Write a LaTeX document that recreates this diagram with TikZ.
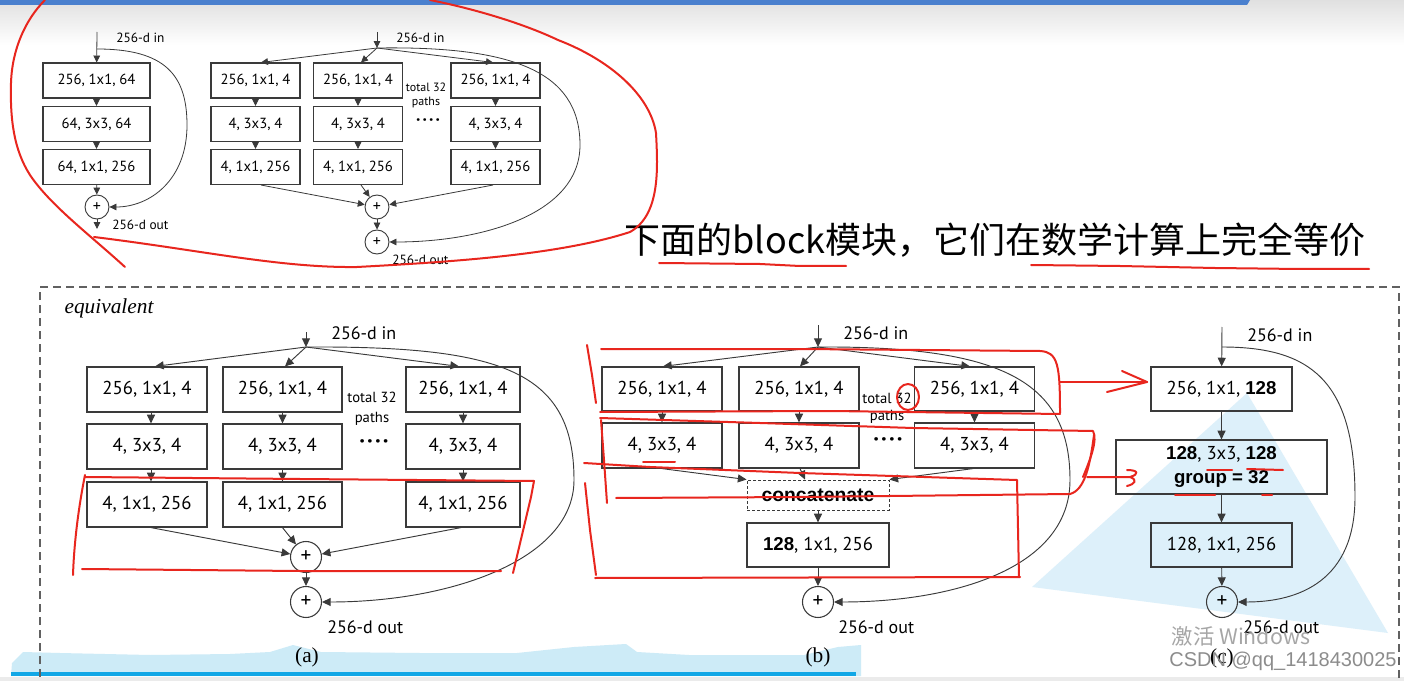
\documentclass[tikz,border=0pt]{standalone}
\usepackage{fontspec}
\setmainfont{PT Sans}
\newfontfamily\cjk{Noto Sans CJK SC}
\newfontfamily\tms{Liberation Serif}
\newfontfamily\arl{Liberation Sans}
\usetikzlibrary{arrows.meta,shapes.geometric}
\newlength\pxu \setlength\pxu{0.75pt}
\definecolor{ln}{HTML}{3A3A3A}
\definecolor{rd}{HTML}{E8261E}
\definecolor{lb}{HTML}{CDEBF7}
\definecolor{tri}{HTML}{DDF0FA}
\definecolor{bb}{HTML}{12A7E6}
\definecolor{topb}{HTML}{4A80CE}
\newcommand\fourdots{·\kern1.6pt·\kern1.6pt·\kern1.6pt·}
\begin{document}
\begin{tikzpicture}[x=0.75pt,y=-0.75pt,
  box/.style={draw=ln, line width=0.9pt, inner sep=0pt, align=center, font=\fontsize{14}{17}\selectfont},
  sbox/.style={draw=ln, line width=0.8pt, inner sep=0pt, align=center, font=\fontsize{11}{13}\selectfont, minimum width=89\pxu, minimum height=35\pxu},
  plus/.style={circle, draw=ln, line width=0.8pt, inner sep=0pt, minimum size=31\pxu, font=\fontsize{16}{16}\selectfont},
  splus/.style={circle, draw=ln, line width=0.7pt, inner sep=0pt, minimum size=24\pxu, font=\fontsize{12}{12}\selectfont},
  arr/.style={draw=ln, line width=0.7pt, -{Triangle[length=6.5pt,width=6pt]}},
  sarr/.style={draw=ln, line width=0.6pt, -{Triangle[length=5.2pt,width=5pt]}},
  lab/.style={font=\fontsize{13.5}{15}\selectfont, inner sep=0pt},
  slab/.style={font=\fontsize{10}{12}\selectfont, inner sep=0pt},
  tot/.style={font=\fontsize{11}{13}\selectfont, inner sep=0pt, align=center},
  stot/.style={font=\fontsize{9}{10}\selectfont, inner sep=0pt, align=center},
  dotsty/.style={font=\bfseries\fontsize{17}{17}\selectfont, inner sep=0pt},
  sdotsty/.style={font=\bfseries\fontsize{13}{13}\selectfont, inner sep=0pt},
  figcap/.style={font=\tms\fontsize{16}{18}\selectfont, inner sep=0pt},
  redpen/.style={draw=rd, line width=1.5pt, line cap=round, line join=round}]
\useasboundingbox (0,0) rectangle (1404,681);
% backgrounds
\fill[white] (0,0) rectangle (1404,681);
\shade[top color=black!12, bottom color=white] (0,0) rectangle (1404,45);
\fill[topb] (0,0) -- (1250,0) -- (1247,5) -- (0,5) -- cycle;
\fill[black!8] (0,677) rectangle (1404,681);
\fill[lb] (11,676) -- (12,663) -- (23,652) -- (60,653) -- (150,655) -- (230,654) -- (270,652) -- (293,645) -- (321,652) -- (420,653) -- (517,653) -- (574,647) -- (626,644) -- (637,652) -- (689,655) -- (804,655) -- (838,647) -- (861,645) -- (861,676) -- cycle;
\fill[bb] (11,672) rectangle (856,676);
\fill[tri] (1032,587) -- (1247,393) -- (1388,633) -- cycle;
% dashed frame
\draw[ln!80, line width=0.8pt, dash pattern=on 6pt off 3.75pt] (40,690) -- (40,287) -- (1399,287) -- (1399,690);
% ===== top-left block =====
\coordinate (Lin) at (97,32);
\coordinate (Lsk) at (97,49);
\coordinate (Lout) at (97,229);
\node[sbox, minimum width=107\pxu] (L1) at (96.5,80.5) {256, 1x1, 64};
\node[sbox, minimum width=107\pxu] (L2) at (96.5,124) {64, 3x3, 64};
\node[sbox, minimum width=107\pxu] (L3) at (96.5,167) {64, 1x1, 256};
\node[splus] (Lp) at (97,207) {+};
\node[slab, anchor=west] (Lint) at (116,38) {256-d in};
\node[slab, anchor=west] (Loutt) at (112,225) {256-d out};
\draw[sarr] (Lin) -- (L1);
\draw[sarr] (L1) -- (L2);
\draw[sarr] (L2) -- (L3);
\draw[sarr] (L3) -- (Lp);
\draw[sarr] (Lp) -- (Lout);
\draw[sarr] (Lsk) .. controls (165,49) and (187,75) .. (187,125) .. controls (187,180) and (150,207) .. (Lp.east);
% ===== top-right block =====
\coordinate (Rin) at (377,32);
\coordinate (Rsp) at (377,48);
\foreach \c/\x in {1/255.5,2/358,3/495.5}{
  \node[sbox] (R1\c) at (\x,80.5) {256, 1x1, 4};
  \node[sbox] (R2\c) at (\x,124) {4, 3x3, 4};
  \node[sbox] (R3\c) at (\x,167) {4, 1x1, 256};
  \draw[sarr] (R1\c) -- (R2\c);
  \draw[sarr] (R2\c) -- (R3\c);
}
\node[splus] (Rp1) at (377,207) {+};
\node[splus] (Rp2) at (377,242) {+};
\node[slab, anchor=west] (Rint) at (396,38) {256-d in};
\node[slab, anchor=west] (Routt) at (392,260) {256-d out};
\node[stot] (Rtot) at (426,95.5) {total 32\\[1pt]paths};
\node[sdotsty] (Rdots) at (428,122) {\fourdots};
\draw[sarr] (Rin) -- (Rsp);
\draw[sarr] (Rsp) -- ([xshift=5.5\pxu]R11.north);
\draw[sarr] (Rsp) -- ([xshift=3\pxu]R12.north);
\draw[sarr] (Rsp) -- ([xshift=-2.5\pxu]R13.north);
\draw[sarr] ([xshift=5.5\pxu]R31.south) -- (Rp1);
\draw[sarr] ([xshift=3\pxu]R32.south) -- (Rp1);
\draw[sarr] ([xshift=-2.5\pxu]R33.south) -- (Rp1);
\draw[sarr] (Rp1) -- (Rp2);
\draw[sarr] (Rsp) .. controls (510,46) and (580,70) .. (580,145) .. controls (580,215) and (480,242) .. (Rp2.east);
% ===== Chinese title =====
\node[font=\cjk\fontsize{27}{30}\selectfont, inner sep=0pt] (title) at (995,240) {下面的block模块，它们在数学计算上完全等价};
\node[font=\tms\itshape\fontsize{16}{18}\selectfont, inner sep=0pt] (equiv) at (109,308) {equivalent};
% ===== (a) =====
\coordinate (Ain) at (306,332);
\coordinate (Asp) at (306,347);
\node[box, minimum width=120\pxu, minimum height=45\pxu] (A11) at (147,389.5) {256, 1x1, 4};
\node[box, minimum width=119\pxu, minimum height=45\pxu] (A12) at (282.5,389.5) {256, 1x1, 4};
\node[box, minimum width=114\pxu, minimum height=45\pxu] (A13) at (463,389.5) {256, 1x1, 4};
\node[box, minimum width=120\pxu, minimum height=45\pxu] (A21) at (147,446.5) {4, 3x3, 4};
\node[box, minimum width=119\pxu, minimum height=45\pxu] (A22) at (282.5,446.5) {4, 3x3, 4};
\node[box, minimum width=114\pxu, minimum height=45\pxu] (A23) at (463,446.5) {4, 3x3, 4};
\node[box, minimum width=120\pxu, minimum height=45\pxu] (A31) at (147,504.5) {4, 1x1, 256};
\node[box, minimum width=119\pxu, minimum height=45\pxu] (A32) at (282.5,504.5) {4, 1x1, 256};
\node[box, minimum width=114\pxu, minimum height=45\pxu] (A33) at (463,504.5) {4, 1x1, 256};
\node[plus] (Ap1) at (306,557) {+};
\node[plus] (Ap2) at (306,602) {+};
\node[lab, anchor=west] (Aint) at (331,333) {256-d in};
\node[lab, anchor=west] (Aoutt) at (327,627) {256-d out};
\node[tot] (Atot) at (372,409) {total 32\\[2pt]paths};
\node[dotsty] (Adots) at (374,444) {\fourdots};
\node[figcap] (Acap) at (307,657) {(a)};
\draw[arr] (Ain) -- (Asp);
\draw[arr] (Asp) -- ([xshift=8\pxu]A11.north);
\draw[arr] (Asp) -- ([xshift=2.5\pxu]A12.north);
\draw[arr] (Asp) -- ([xshift=-4\pxu]A13.north);
\draw[arr] ([xshift=4\pxu]A11.south) -- ([xshift=4\pxu]A21.north);
\draw[arr] (A12) -- (A22);
\draw[arr] (A13) -- (A23);
\draw[arr] ([xshift=4\pxu]A21.south) -- ([xshift=4\pxu]A31.north);
\draw[arr] (A22) -- (A32);
\draw[arr] (A23) -- (A33);
\draw[arr] ([xshift=4\pxu]A31.south) -- (Ap1);
\draw[arr] (A32.south) -- (Ap1);
\draw[arr] ([xshift=-2\pxu]A33.south) -- (Ap1);
\draw[arr] (Ap1) -- (Ap2);
\draw[arr] (Asp) .. controls (500,346) and (574,370) .. (574,480) .. controls (574,560) and (450,602) .. (Ap2.east);
% ===== (b) =====
\coordinate (Bin) at (818,325);
\coordinate (Bsp) at (818,347);
\foreach \c/\x in {1/662,2/799,3/974.5}{
  \node[box, minimum width=120\pxu, minimum height=44\pxu] (B1\c) at (\x,389) {256, 1x1, 4};
  \node[box, minimum width=120\pxu, minimum height=45\pxu] (B2\c) at (\x,445.5) {4, 3x3, 4};
  \draw[arr] (B1\c) -- (B2\c);
}
\node[draw=ln, line width=0.7pt, dash pattern=on 2.25pt off 1.5pt, minimum width=142\pxu, minimum height=30\pxu, inner sep=0pt, font=\arl\bfseries\fontsize{14.5}{15}\selectfont] (Bc) at (818,495) {concatenate};
\node[box, minimum width=142\pxu, minimum height=44\pxu] (B3) at (818,545) {{\arl\bfseries 128}, 1x1, 256};
\node[plus] (Bp) at (818,602) {+};
\node[lab, anchor=west] (Bint) at (843,333) {256-d in};
\node[lab, anchor=west] (Boutt) at (838,627) {256-d out};
\node[tot] (Btot) at (887,408) {total 32\\[0pt]paths};
\node[dotsty] (Bdots) at (888,442) {\fourdots};
\node[figcap] (Bcap) at (818,657) {(b)};
\draw[arr] (Bin) -- (Bsp);
\draw[arr] (Bsp) -- ([xshift=1\pxu]B11.north);
\draw[arr] (Bsp) -- ([xshift=1\pxu]B12.north);
\draw[arr] (Bsp) -- ([xshift=-4.5\pxu]B13.north);
\draw[arr] (B21.south) -- (Bc.north west);
\draw[arr] ([xshift=1\pxu]B22.south) -- ([xshift=-13\pxu]Bc.north);
\draw[arr] ([xshift=-1.5\pxu]B23.south) -- (Bc.north east);
\draw[arr] (Bc) -- (B3);
\draw[arr] (B3) -- (Bp);
\draw[arr] (Bsp) .. controls (1000,346) and (1070,380) .. (1070,480) .. controls (1070,570) and (950,602) .. (Bp.east);
% ===== (c) =====
\coordinate (Cin) at (1222,327);
\coordinate (Csk) at (1222,347);
\node[box, minimum width=141\pxu, minimum height=44\pxu] (C1) at (1221.5,389) {256, 1x1, {\arl\bfseries 128}};
\node[box, minimum width=211\pxu, minimum height=54\pxu] (C2) at (1221.5,467) {{\arl\bfseries 128}, 3x3, {\arl\bfseries 128}\\[1pt]{\arl\bfseries group = 32}};
\node[box, minimum width=141\pxu, minimum height=44\pxu] (C3) at (1221.5,545) {128, 1x1, 256};
\node[plus] (Cp) at (1222,602) {+};
\node[lab, anchor=west] (Cint) at (1247,335) {256-d in};
\node[lab, anchor=west] (Coutt) at (1243,627) {256-d out};
\node[figcap] (Ccap) at (1222,658) {(c)};
\draw[arr] (Cin) -- (C1);
\draw[arr] (C1) -- (C2);
\draw[arr] (C2) -- (C3);
\draw[arr] (C3) -- (Cp);
\draw[arr] (Csk) .. controls (1310,347) and (1355,380) .. (1355,497) .. controls (1355,580) and (1300,602) .. (Cp.east);
% ===== red annotations =====
\draw[redpen] (45,0) .. controls (25,20) and (12,50) .. (11,83) .. controls (10,120) and (14,150) .. (30,175) .. controls (50,205) and (90,235) .. (125,267);
\draw[redpen] (94,237) .. controls (200,250) and (280,268) .. (357,267) .. controls (450,262) and (560,255) .. (630,232) .. controls (660,215) and (658,170) .. (656,133) .. controls (650,95) and (610,60) .. (558,40) .. controls (520,22) and (470,8) .. (430,0);
\draw[redpen] (659,263) -- (760,264) -- (800,266) -- (846,266);
\draw[redpen] (1031,265) -- (1120,266) -- (1215,268) -- (1300,269) -- (1369,269);
% (a)
\draw[redpen] (85,475) .. controls (78,510) and (74,545) .. (73,575);
\draw[redpen] (85,477) -- (300,479) -- (534,481) -- (531,497) -- (513,573);
\draw[redpen] (82,569) -- (300,571) -- (501,571);
% (b)
\draw[redpen] (601,349) -- (800,349) -- (1040,351) .. controls (1058,352) and (1060,365) .. (1060,413);
\draw[redpen] (587,345) -- (592,375) -- (596,403);
\draw[redpen] (600,412) -- (830,411) -- (1060,414);
\draw[redpen] (600,418) -- (760,423) -- (913,428) -- (1093,431) .. controls (1098,440) and (1090,460) .. (1083,477);
\draw[redpen] (601,420) -- (604,460) -- (607,503);
\draw[redpen] (584,463) -- (650,467) -- (800,473) -- (1017,480) -- (1019,577);
\draw[redpen] (595,578) -- (1020,577);
\draw[redpen] (585,483) -- (590,530) -- (596,575);
\draw[redpen] (616,498) -- (800,497) -- (1070,494) .. controls (1085,490) and (1090,465) .. (1094,435);
\draw[redpen] (908,397) ellipse [x radius=11, y radius=13];
\draw[redpen] (643,462) -- (675,462);
% arrows to (c)
\draw[redpen] (1060,382) -- (1147,382);
\draw[redpen] (1122,371) -- (1147,382) -- (1107,392);
\draw[redpen] (1087,477) -- (1130,477) .. controls (1140,474) and (1138,470) .. (1127,470);
\draw[redpen] (1130,477) .. controls (1138,480) and (1135,484) .. (1127,486);
% (c) underlines
\draw[redpen] (1207,470) -- (1232,470);
\draw[redpen] (1247,469) -- (1283,470);
\draw[redpen] (1175,495) -- (1215,495);
\draw[redpen] (1262,495) -- (1272,495);
% watermark
\node[font=\cjk\fontsize{16}{18}\selectfont, text=black!35, inner sep=0pt] (wm1) at (1241,636) {激活 Windows};
\node[font=\arl\fontsize{15}{17}\selectfont, text=black!45, inner sep=0pt] (wm2) at (1283,661) {CSDN @qq\_1418430025};
\end{tikzpicture}
\end{document}
